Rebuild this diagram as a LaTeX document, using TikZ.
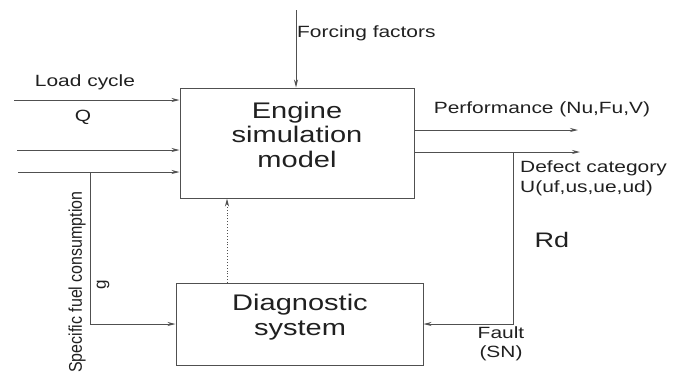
\documentclass[tikz,border=0pt]{standalone}
\usepackage{graphicx}
\usepackage{fontspec}
\setmainfont{Liberation Sans}
\usetikzlibrary{arrows.meta}
\definecolor{linec}{HTML}{505050}
\definecolor{textc}{HTML}{202020}
\newcommand{\hstr}[1]{\scalebox{1.35}[1.05]{#1}}
\tikzset{
  box/.style={draw=linec, line width=1pt, fill=white},
  conn/.style={draw=linec, line width=0.9pt},
  arr/.style={conn, -{Stealth[length=8pt,width=4pt]}},
  lbl/.style={text=textc, inner sep=0pt, font=\fontsize{15.5}{18}\selectfont},
  big/.style={text=textc, inner sep=0pt, font=\fontsize{21.5}{23.5}\selectfont},
}
\begin{document}
\begin{tikzpicture}[x=1pt,y=-1pt]
\useasboundingbox (0,0) rectangle (689,376);
% boxes
\node[box, minimum width=234pt, minimum height=110pt] (eng) at (297,143) {};
\node[box, minimum width=247pt, minimum height=82pt] (diag) at (299.5,324) {};
\node[big] (engtxt) at (297,138) {\hstr{\begin{tabular}{@{}c@{}}Engine\\simulation\\model\end{tabular}}};
\node[big] (diagtxt) at (300,318) {\hstr{\begin{tabular}{@{}c@{}}Diagnostic\\system\end{tabular}}};
% coordinates
\coordinate (f0) at (296,10);
\coordinate (in1) at (14,100);
\coordinate (in2) at (17,150);
\coordinate (in3) at (18,172);
\coordinate (br) at (90,172);
\coordinate (dt) at (227,283);
\coordinate (p1) at (578,130);
\coordinate (p2) at (580,152);
\coordinate (b2) at (513,152);
% connectors
\draw[arr] (f0) -- (f0 |- eng.north);
\draw[arr] (in1) -- (in1 -| eng.west);
\draw[arr] (in2) -- (in2 -| eng.west);
\draw[arr] (in3) -- (in3 -| eng.west);
\draw[arr] (br) |- (diag.west);
\draw[arr, dotted] (dt) -- (dt |- eng.south);
\draw[arr] (p1 -| eng.east) -- (p1);
\draw[arr] (p2 -| eng.east) -- (p2);
\draw[arr] (b2) |- (diag.east);
% labels
\node[lbl] (lc) at (85,82) {\hstr{Load cycle}};
\node[lbl] (q) at (83,117) {\hstr{Q}};
\node[lbl, anchor=west] (ff) at (297,33) {\hstr{Forcing factors}};
\node[lbl] (perf) at (542,109) {\hstr{Performance (Nu,Fu,V)}};
\node[lbl, anchor=west] (dc) at (520,168) {\hstr{Defect category}};
\node[lbl, anchor=west] (uu) at (520,188) {\hstr{U(uf,us,ue,ud)}};
\node[big, font=\fontsize{20}{24}\selectfont] (rd) at (552,240) {\hstr{Rd}};
\node[lbl] (fault) at (501,344) {\hstr{\begin{tabular}{@{}c@{}}Fault\\(SN)\end{tabular}}};
\node[lbl, rotate=90, font=\fontsize{17}{20}\selectfont] (g) at (103,285) {g};
\node[lbl, rotate=90, font=\fontsize{16}{20}\selectfont] (sfc) at (77,282) {\scalebox{1}[1.15]{Specific fuel consumption}};
\end{tikzpicture}
\end{document}
